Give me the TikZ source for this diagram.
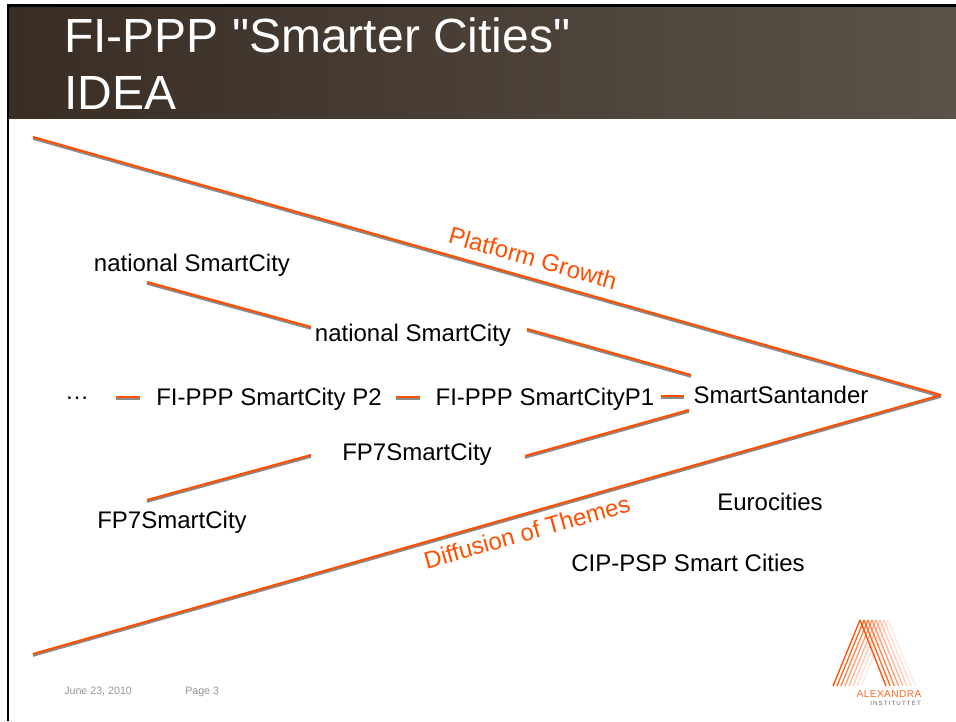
\documentclass[tikz,border=0pt]{standalone}
\usepackage{fontspec}
\setmainfont{Liberation Sans}
\newfontfamily\plainsans{Liberation Sans}
\definecolor{hdrL}{HTML}{392D24}
\definecolor{hdrR}{HTML}{5A5248}
\definecolor{org}{HTML}{FF4F00}
\definecolor{shad}{HTML}{8A8A8A}
\tikzset{
  px/.style={x=0.75pt,y=-0.75pt},
  lab/.style={font=\fontsize{18}{21}\selectfont,text=black,inner sep=0pt},
  olab/.style={font=\fontsize{18}{21}\selectfont,text=org,inner sep=0pt},
  foot/.style={font=\fontsize{8}{10}\selectfont,text=black!42,inner sep=0pt,anchor=west},
  ttl/.style={font=\plainsans\fontsize{36}{42}\selectfont,text=white,inner sep=0pt,anchor=west},
  orgline/.style={line width=1.6pt,org},
  shadline/.style={line width=1.6pt,shad},
}
\newcommand{\dbl}[2]{\draw[shadline] ([yshift=-1.3pt]#1) -- ([yshift=-1.3pt]#2);\draw[orgline] (#1) -- (#2);}
\begin{document}
\begin{tikzpicture}[px]
\useasboundingbox (0,0) rectangle (956,721);
\fill[white] (0,0) rectangle (956,721);
\shade[left color=hdrL,right color=hdrR] (9,6) rectangle (956,118);
\fill[black] (7,4) rectangle (956,6.5);
\fill[black] (7,4) rectangle (9.2,721);
\node[ttl] (t1) at (64,35) {FI-PPP "Smarter Cities"};
\node[ttl] (t2) at (64,93) {IDEA};

\coordinate (apex) at (941,395);
\coordinate (ul) at (33,137);
\coordinate (ll) at (33,654);
\dbl{ul}{apex}
\dbl{ll}{apex}

\node[lab] (ns1) at (192,265) {national SmartCity};
\node[lab] (ns2) at (413,335) {national SmartCity};
\node[lab] (dots) at (77,398) {…};
\node[lab] (p2) at (269,399) {FI-PPP SmartCity P2};
\node[lab] (p1) at (545,399) {FI-PPP SmartCityP1};
\node[lab] (ss) at (781,395) {SmartSantander};
\node[lab] (f2) at (417,454) {FP7SmartCity};
\node[lab] (f1) at (172,522) {FP7SmartCity};
\node[lab] (euro) at (770,502) {Eurocities};
\node[lab] (cip) at (688,563) {CIP-PSP Smart Cities};
\node[olab,rotate=-15.8] (pg) at (533,258) {Platform Growth};
\node[olab,rotate=15.8] (dt) at (527,532) {Diffusion of Themes};

\coordinate (a1) at (147,282); \coordinate (a2) at (311,327);
\coordinate (b1) at (527,329); \coordinate (b2) at (691,375);
\coordinate (c1) at (116,397); \coordinate (c2) at (140,397);
\coordinate (d1) at (396,397); \coordinate (d2) at (420,397);
\coordinate (e1) at (661,396); \coordinate (e2) at (684,396);
\coordinate (f1a) at (147,500); \coordinate (f2a) at (311,455);
\coordinate (g1) at (525,456); \coordinate (g2) at (689,410);
\dbl{a1}{a2}
\dbl{b1}{b2}
\dbl{c1}{c2}
\dbl{d1}{d2}
\dbl{e1}{e2}
\dbl{f1a}{f2a}
\dbl{g1}{g2}

\node[foot] (date) at (64,691.5) {June 23, 2010};
\node[foot] (page) at (185,691.5) {Page 3};

% logo
\foreach \i/\o in {7/12,6/20,5/30,4/42,3/55,2/70,1/85,0/100}{
  \draw[org,opacity=\o/100,line width=1pt] ({860+4*\i},620) -- ({833+4*\i},686);
}
\foreach \i/\o in {7/12,6/20,5/30,4/42,3/55,2/70,1/85,0/100}{
  \draw[org,opacity=\o/100,line width=1pt] ({860+4*\i},620) -- ({886+4.2*\i},686);
}
\node[font=\fontsize{7.6}{9}\selectfont,text=org!85,inner sep=0pt] (al) at (889,694.5) {A\kern0.3pt L\kern0.3pt E\kern0.3pt X\kern0.3pt A\kern0.3pt N\kern0.3pt D\kern0.3pt R\kern0.3pt A};
\node[font=\fontsize{4.6}{5}\selectfont,text=black!60,inner sep=0pt] (in) at (895.5,703) {I\kern0.85pt N\kern0.85pt S\kern0.85pt T\kern0.85pt I\kern0.85pt T\kern0.85pt U\kern0.85pt T\kern0.85pt T\kern0.85pt E\kern0.85pt T};
\end{tikzpicture}
\end{document}
